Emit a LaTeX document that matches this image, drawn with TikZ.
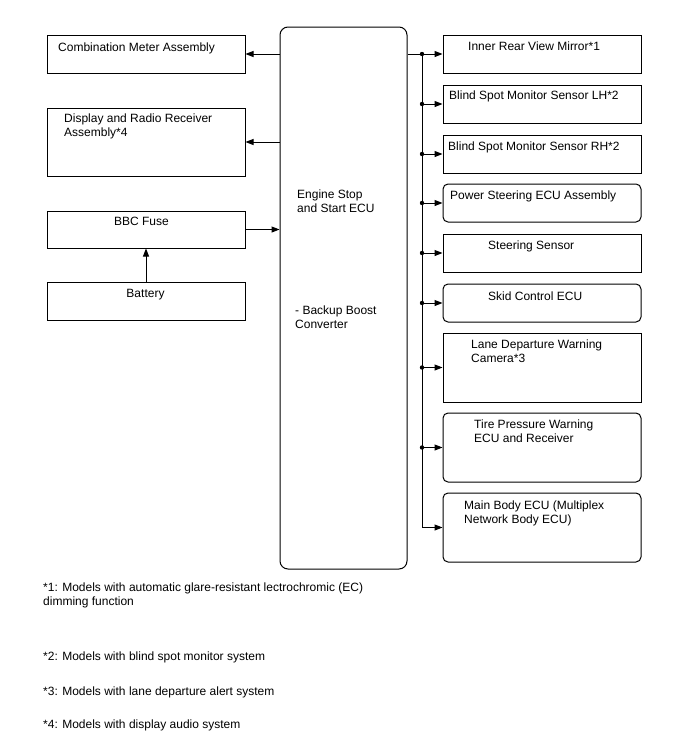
\documentclass[tikz,border=0pt]{standalone}
\usepackage{fontspec}
\setmainfont{Liberation Sans}
\usetikzlibrary{arrows.meta}
\begin{document}
\begin{tikzpicture}[x=1pt,y=-1pt,
  box/.style={draw=black, line width=1pt, rectangle, inner sep=0pt},
  rbox/.style={box, rounded corners=5pt},
  lbl/.style={inner sep=0pt, anchor=base west, align=left, font=\fontsize{12}{14}\selectfont},
  clbl/.style={lbl, anchor=base},
  arr/.style={line width=1pt, -{Triangle[length=8pt,width=6pt]}},
  ln/.style={line width=1pt}]
\useasboundingbox (0,0) rectangle (688,755);
% left column
\node[box, minimum width=198pt, minimum height=38pt] (cm) at (146,54) {};
\node[box, minimum width=198pt, minimum height=68pt] (disp) at (146,142) {};
\node[box, minimum width=198pt, minimum height=37pt] (bbc) at (146,229.5) {};
\node[box, minimum width=198pt, minimum height=38pt] (batt) at (146,301) {};
\node[lbl] (tcm) at (58,51) {Combination Meter Assembly};
\node[lbl] (tdisp) at (64,136) {Display and Radio Receiver\\Assembly*4};
\node[clbl] (tbbc) at (141.5,225) {BBC Fuse};
\node[clbl] (tbatt) at (145.5,297) {Battery};
% ECU
\node[box, rounded corners=8pt, minimum width=127pt, minimum height=542pt] (ecu) at (343.5,298) {};
\node[lbl] (tecu1) at (297,212) {Engine Stop\\and Start ECU};
\node[lbl] (tecu2) at (295,328) {- Backup Boost\\Converter};
% right column
\node[box, minimum width=198pt, minimum height=38pt] (irm) at (542,54) {};
\node[box, minimum width=198pt, minimum height=38pt] (lh) at (542,104) {};
\node[box, minimum width=198pt, minimum height=38pt] (rh) at (542,154) {};
\node[rbox, minimum width=198pt, minimum height=38pt] (ps) at (542,203) {};
\node[box, minimum width=198pt, minimum height=38pt] (ss) at (542,253) {};
\node[rbox, minimum width=198pt, minimum height=38pt] (skid) at (542,303) {};
\node[box, minimum width=198pt, minimum height=69pt] (ldw) at (542,367.5) {};
\node[rbox, minimum width=198pt, minimum height=69pt] (tpw) at (542,447.5) {};
\node[rbox, minimum width=198pt, minimum height=69pt] (mb) at (542,527.5) {};
\node[lbl] (tirm) at (468,50) {Inner Rear View Mirror*1};
\node[lbl] (tlh) at (449,99) {Blind Spot Monitor Sensor LH*2};
\node[lbl] (trh) at (448,150) {Blind Spot Monitor Sensor RH*2};
\node[lbl] (tps) at (450,199) {Power Steering ECU Assembly};
\node[lbl] (tss) at (488,249) {Steering Sensor};
\node[lbl] (tskid) at (488,300) {Skid Control ECU};
\node[lbl] (tldw) at (471,362) {Lane Departure Warning\\Camera*3};
\node[lbl] (ttpw) at (474,442) {Tire Pressure Warning\\ECU and Receiver};
\node[lbl] (tmb) at (464,523) {Main Body ECU (Multiplex\\Network Body ECU)};
% left connectors
\draw[arr] (cm -| ecu.west) -- (cm.east);
\draw[arr] (disp -| ecu.west) -- (disp.east);
\draw[arr] (bbc.east) -- (bbc -| ecu.west);
\draw[arr] (batt.north) -- (bbc.south);
% bus
\coordinate (bus) at (422,0);
\draw[ln] (ecu.east |- irm) -- (bus |- irm) -- (bus |- mb);
\foreach \b in {irm,lh,rh,ps,ss,skid,ldw,tpw,mb}{
  \draw[arr] (bus |- \b) -- (\b.west);
}
\foreach \b in {irm,lh,rh,ps,ss,skid,ldw,tpw}{
  \fill (bus |- \b) circle (2.2pt);
}
% footnotes
\node[lbl] (f1) at (43,605) {*1: Models with automatic glare-resistant lectrochromic (EC)\\dimming function};
\node[lbl] (f2) at (43,660) {*2: Models with blind spot monitor system};
\node[lbl] (f3) at (43,695) {*3: Models with lane departure alert system};
\node[lbl] (f4) at (43,728) {*4: Models with display audio system};
\end{tikzpicture}
\end{document}
